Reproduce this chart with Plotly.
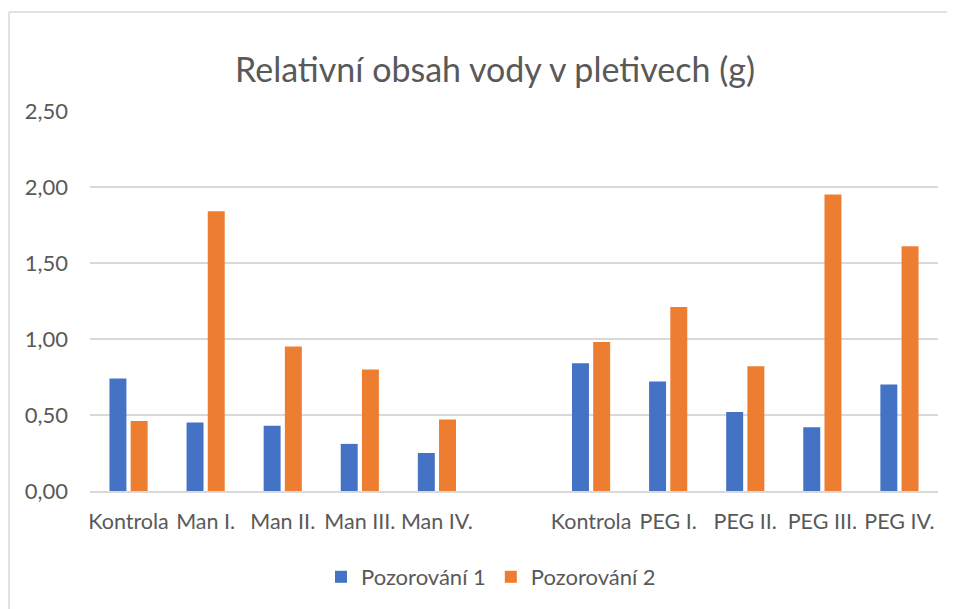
import plotly.graph_objects as go

categories = ["Kontrola", "Man I.", "Man II.", "Man III.", "Man IV.", "",
              "Kontrola", "PEG I.", "PEG II.", "PEG III.", "PEG IV."]
pozorovani_1 = [0.74, 0.45, 0.43, 0.31, 0.25, None, 0.84, 0.72, 0.52, 0.42, 0.70]
pozorovani_2 = [0.46, 1.84, 0.95, 0.80, 0.47, None, 0.98, 1.21, 0.82, 1.95, 1.61]
y_ticks = [0, 0.5, 1.0, 1.5, 2.0, 2.5]

positions = list(range(len(categories)))
FONT = "Lato, Open Sans, sans-serif"
GREY = "#595959"

fig = go.Figure()
fig.add_trace(go.Bar(x=positions, y=pozorovani_1, name="Pozorování 1",
                     marker=dict(color="#4472C4", line=dict(width=0))))
fig.add_trace(go.Bar(x=positions, y=pozorovani_2, name="Pozorování 2",
                     marker=dict(color="#ED7D31", line=dict(width=0))))

# page has an 8px body margin; figure is sized/offset to compensate
OFF = 8
W, H = 955 - OFF, 609 - OFF
L, R, T, B = 90 - OFF, 17, 111 - OFF, 609 - 491
pw, ph = W - L - R, H - T - B

fig.update_layout(
    width=W, height=H,
    margin=dict(l=L, r=R, t=T, b=B, pad=0),
    paper_bgcolor="white", plot_bgcolor="white",
    separators=", ",
    barmode="group", bargap=0.45, bargroupgap=0.2,
    title=dict(text="Relativní obsah vody v pletivech (g)",
               x=(495 - OFF) / W, xref="container", xanchor="center",
               y=1 - (70 - OFF) / H, yref="container", yanchor="middle",
               font=dict(family=FONT, size=34, color=GREY)),
    font=dict(family=FONT, size=21, color=GREY),
    showlegend=True,
    legend=dict(orientation="h", x=(491 - OFF) / W, xref="container", xanchor="center",
                y=1 - (577 - OFF) / H, yref="container", yanchor="middle",
                font=dict(family=FONT, size=22, color=GREY),
                itemwidth=30, traceorder="normal"),
    xaxis=dict(range=[-0.5, len(categories) - 0.5], tickmode="array",
               tickvals=positions, ticktext=categories, showgrid=False,
               showline=True, linecolor="#d9d9d9", linewidth=1.5, ticks="",
               tickfont=dict(family=FONT, size=21.5, color=GREY),
               ticklabelstandoff=10, zeroline=False),
    yaxis=dict(range=[0, 2.5], tickmode="array", tickvals=y_ticks,
               tickformat=".2f", showgrid=True, gridcolor="#d9d9d9",
               gridwidth=1.5, zeroline=False, showline=False, ticks="",
               tickfont=dict(family=FONT, size=22, color=GREY),
               ticklabelstandoff=21),
)

# chart-area border (left and top edges visible in the reference)
def px_x(p):
    return (p - L) / pw

def px_y(p):
    return 1 - (p - T) / ph

fig.add_shape(type="line", xref="paper", yref="paper",
              x0=px_x(1), x1=px_x(1), y0=px_y(4), y1=px_y(H),
              line=dict(color="#d9d9d9", width=1.5))
fig.add_shape(type="line", xref="paper", yref="paper",
              x0=px_x(1), x1=px_x(W), y0=px_y(4), y1=px_y(4),
              line=dict(color="#d9d9d9", width=1.5))

fig.write_html("out.html")
